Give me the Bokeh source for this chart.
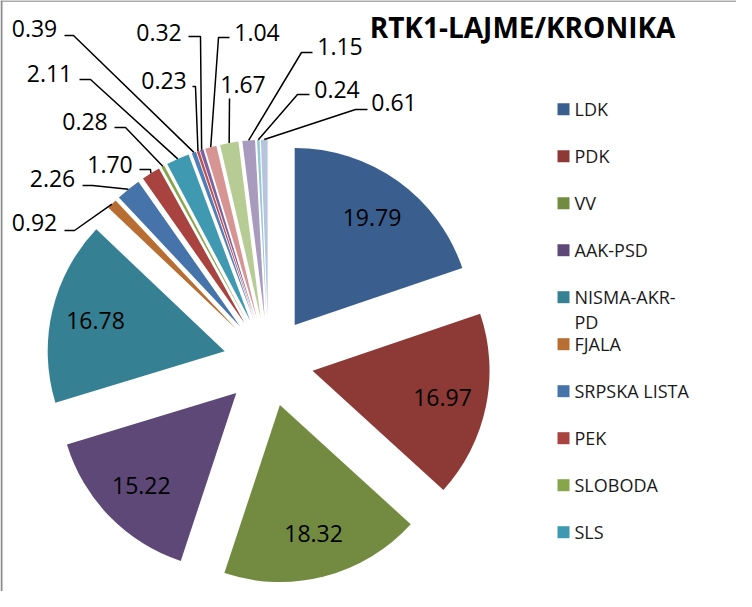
import math
from bokeh.plotting import figure
from bokeh.models import Range1d
from bokeh.core.properties import value
from bokeh.embed import file_html
from bokeh.resources import INLINE

# ---------------- data ----------------
title = "RTK1-LAJME/KRONIKA"
values = [19.79, 16.97, 18.32, 15.22, 16.78, 0.92, 2.26, 1.70, 0.28, 2.11,
          0.39, 0.23, 0.32, 1.04, 1.67, 1.15, 0.24, 0.61]
legend_names = ["LDK", "PDK", "VV", "AAK-PSD", "NISMA-AKR-PD", "FJALA",
                "SRPSKA LISTA", "PEK", "SLOBODA", "SLS"]
legend_wrap = {"NISMA-AKR-PD": ["NISMA-AKR-", "PD"]}
colors = ["#3A5F8E", "#8D3A37", "#738B40", "#5D4877", "#368093", "#B86E32",
          "#4673AA", "#A9433F", "#87A54B", "#3F99B0", "#4F7EBB", "#C0504D",
          "#7E62A0", "#D69593", "#B7CC94", "#A89BBE", "#92C8D9", "#B7C4DD"]

# ---------------- layout (page pixels) ----------------
W, H = 736, 591
CX, CY = 276.0, 369.0      # pie centre
R = 177.0                  # radius
D = 45.0                   # explosion distance
INNER = 0.75               # inside-label position (fraction of radius)
# outside labels (slices 6..18): text centre and leader (x start, x elbow, y)
out_label_pos = [(42, 230), (60, 186), (117.5, 172), (92.5, 129), (57, 81),
                 (42, 35.5), (171.5, 87.5), (166.5, 40), (264.5, 39.5),
                 (250.5, 92), (347.5, 53.5), (344.5, 97), (401.5, 110)]
out_leader = [(72, 82, 238), (90, 100, 193), (147, 158, 177), (122, 133, 135),
              (87, 98, 87), (72, 81, 43), (200, 203, 94), (196, 208, 44),
              (237, 226, 45), (237, 237, 106), (320, 309, 60), (317, 305, 102),
              (375, 363, 117)]
legend_x, legend_y0, legend_dy = 571, 116.7, 47.0

FONT = value("Open Sans")

p = figure(width=W, height=H, x_range=Range1d(8, 8 + W), y_range=Range1d(-(8 + H), -8),
           output_backend="svg", toolbar_location=None, min_border=0)
p.axis.visible = False
p.grid.visible = False
p.outline_line_color = None
p.background_fill_color = "white"
p.border_fill_color = "white"

total = sum(values)
cum = 0.0
wx, wy, sa, ea = [], [], [], []
inner_x, inner_y, inner_t = [], [], []
arc_pts = []
for v in values:
    t0 = cum / total * 360.0
    t1 = (cum + v) / total * 360.0
    cum += v
    tm = math.radians((t0 + t1) / 2)
    ax = CX + D * math.sin(tm)
    ay = CY - D * math.cos(tm)
    wx.append(ax)
    wy.append(-ay)
    sa.append(math.radians(90 - t0))
    ea.append(math.radians(90 - t1))
    inner_x.append(ax + INNER * R * math.sin(tm))
    inner_y.append(-(ay - INNER * R * math.cos(tm)))
    inner_t.append(f"{v:.2f}")
    arc_pts.append((ax + R * math.sin(tm), ay - R * math.cos(tm)))

p.wedge(x=wx, y=wy, radius=R, start_angle=sa, end_angle=ea, direction="clock",
        fill_color=colors, line_color=None)

# inside labels (5 large slices)
n_in = 5
p.text(x=inner_x[:n_in], y=inner_y[:n_in], text=inner_t[:n_in], text_font=FONT,
       text_font_size="23px", text_align="center", text_baseline="middle",
       text_color="black")

# outside labels with leader lines
xs, ys = [], []
ox, oy, ot = [], [], []
for i, (pos, ld) in enumerate(zip(out_label_pos, out_leader)):
    k = n_in + i
    axp, ayp = arc_pts[k]
    xs.append([ld[0], ld[1], axp])
    ys.append([-ld[2], -ld[2], -ayp])
    ox.append(pos[0])
    oy.append(-pos[1])
    ot.append(inner_t[k])
p.multi_line(xs=xs, ys=ys, line_color="black", line_width=1.5)
p.text(x=ox, y=oy, text=ot, text_font=FONT, text_font_size="23px",
       text_align="center", text_baseline="middle", text_color="black")

# title
p.text(x=[530], y=[-34.5], text=[title], text_font=FONT, text_font_size="28px",
       text_font_style="bold", text_align="center", text_baseline="middle",
       text_color="black")

# legend
lx, ly, lc = [], [], []
tx, ty, tt = [], [], []
for i, name in enumerate(legend_names):
    yy = legend_y0 + i * legend_dy
    lx.append(legend_x)
    ly.append(-yy)
    lc.append(colors[i])
    lines = legend_wrap.get(name, [name])
    for j, line in enumerate(lines):
        tx.append(legend_x + 11)
        ty.append(-(yy + j * 25))
        tt.append(line)
p.rect(x=lx, y=ly, width=12, height=12, fill_color=lc, line_color=None)
p.text(x=tx, y=ty, text=tt, text_font=FONT, text_font_size="18px",
       text_align="left", text_baseline="middle", text_color="#1a1a1a")

# chart-area frame (only top and left edges are inside the window)
p.segment(x0=[8, 9], y0=[-8.5, -8], x1=[8 + W, 9], y1=[-8.5, -(8 + H)],
          line_color="#8c8c8c", line_width=[1.5, 2])

open("out.html", "w").write(file_html(p, INLINE))
